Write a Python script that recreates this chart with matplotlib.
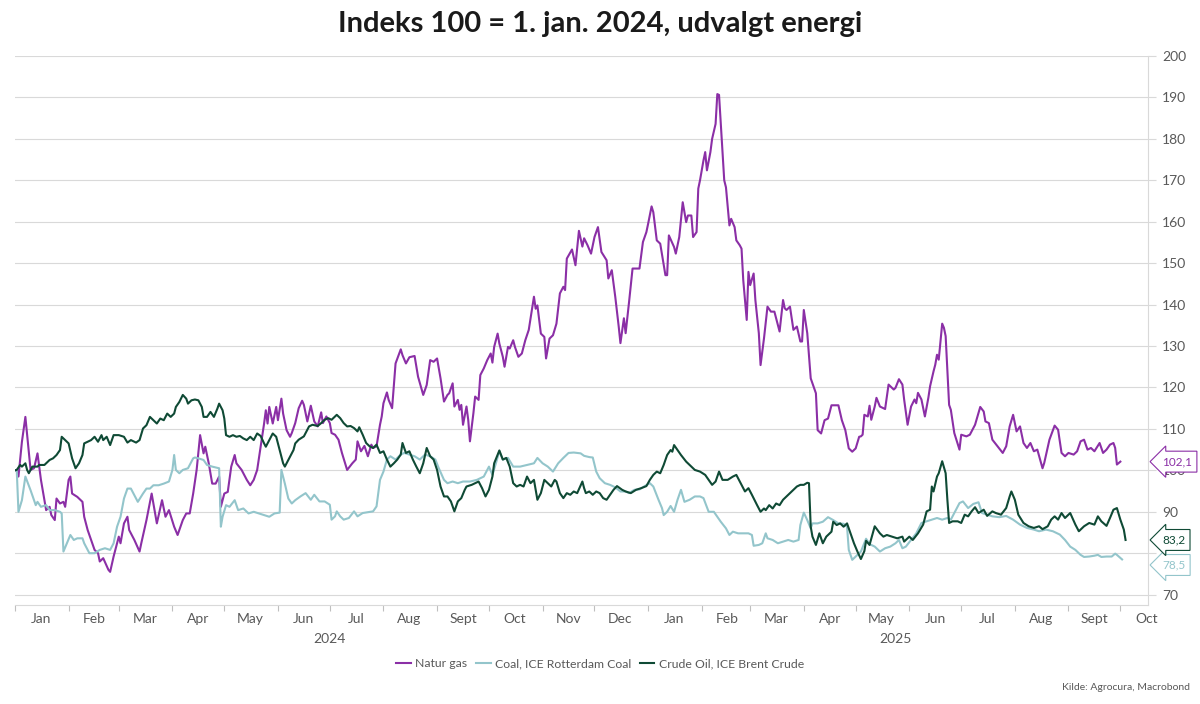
import numpy as np
import pandas as pd
import matplotlib
matplotlib.use('Agg')
import matplotlib.pyplot as plt
import matplotlib.dates as mdates
from matplotlib.ticker import FuncFormatter, NullFormatter
from matplotlib.transforms import blended_transform_factory

plt.rcParams['font.family'] = ['Lato', 'DejaVu Sans']

# dage efter 1. jan. 2024 og indeksværdier (aflæst)
gas_days = [0, 1, 2, 4, 6, 9, 11, 13, 15, 18,
            20, 21, 23, 24, 26, 28, 29, 31, 32, 33,
            36, 39, 40, 42, 46, 48, 49, 51, 54, 55,
            57, 60, 61, 63, 65, 66, 69, 72, 73, 76,
            79, 81, 82, 85, 87, 89, 92, 94, 97, 99,
            101, 103, 105, 107, 109, 110, 112, 114, 116, 118,
            119, 121, 123, 125, 127, 128, 131, 134, 136, 138,
            140, 142, 144, 145, 146, 147, 149, 151, 152, 154,
            155, 157, 159, 160, 162, 164, 166, 167, 169, 171,
            173, 175, 177, 178, 180, 182, 183, 185, 187, 189,
            192, 195, 197, 198, 200, 202, 204, 206, 207, 209,
            211, 212, 213, 215, 216, 218, 220, 223, 224, 226,
            228, 231, 233, 236, 238, 240, 242, 244, 246, 248,
            250, 251, 253, 254, 256, 257, 258, 259, 261, 262,
            263, 265, 266, 268, 269, 271, 273, 275, 276, 277,
            279, 280, 282, 283, 285, 286, 288, 289, 291, 293,
            295, 297, 300, 301, 302, 304, 306, 307, 309, 311,
            313, 315, 317, 318, 319, 322, 324, 326, 328, 329,
            331, 333, 335, 337, 339, 342, 343, 345, 347, 349,
            350, 352, 353, 355, 357, 359, 361, 363, 365, 366,
            368, 369, 371, 373, 376, 377, 378, 381, 382, 384,
            386, 388, 389, 391, 392, 394, 395, 396, 398, 399,
            400, 402, 403, 405, 406, 407, 408, 410, 411, 413,
            414, 416, 417, 419, 420, 421, 423, 424, 425, 427,
            428, 430, 431, 433, 435, 437, 439, 442, 444, 445,
            446, 448, 450, 452, 454, 455, 456, 458, 460, 461,
            463, 464, 466, 468, 470, 472, 476, 478, 480, 482,
            484, 486, 488, 489, 490, 491, 493, 494, 495, 497,
            498, 500, 503, 505, 508, 509, 511, 513, 514, 516,
            518, 520, 521, 522, 524, 526, 528, 529, 531, 532,
            533, 534, 536, 537, 538, 540, 541, 543, 546, 547,
            550, 552, 554, 555, 558, 560, 561, 563, 565, 568,
            571, 573, 575, 577, 579, 581, 583, 585, 587, 589,
            591, 594, 595, 598, 601, 603, 605, 607, 609, 612,
            614, 616, 618, 620, 622, 624, 627, 629, 631, 633,
            635, 636, 637, 639]
gas_vals = [100.0, 100.1, 98.5, 106.9, 112.9, 100.1, 100.5, 104.1, 97.7, 90.4,
            91.2, 89.2, 88.0, 93.2, 92.0, 92.4, 91.2, 97.7, 98.5, 94.4,
            93.6, 92.4, 88.8, 85.6, 80.8, 80.0, 78.0, 78.8, 76.0, 75.5,
            79.2, 84.0, 82.4, 87.2, 88.8, 85.6, 83.2, 80.4, 82.4, 88.0,
            94.4, 89.6, 87.2, 92.8, 88.8, 90.4, 86.4, 84.4, 88.0, 89.6,
            89.6, 94.4, 100.1, 108.5, 104.1, 105.7, 101.7, 96.8, 96.8, 98.5,
            91.2, 94.4, 94.8, 100.9, 103.7, 101.7, 100.1, 97.7, 96.4, 97.7,
            100.1, 105.7, 111.3, 114.5, 111.3, 115.3, 111.3, 115.3, 112.1, 117.3,
            113.7, 109.7, 108.1, 109.0, 111.4, 115.0, 116.8, 115.8, 111.8, 115.6,
            111.8, 110.6, 114.0, 111.4, 113.0, 111.4, 109.0, 108.6, 107.4, 104.2,
            100.1, 101.7, 102.6, 107.0, 104.6, 105.9, 103.4, 106.2, 105.4, 105.8,
            111.0, 113.0, 116.2, 118.8, 117.0, 115.0, 125.8, 129.2, 127.8, 125.8,
            127.3, 127.6, 122.6, 118.2, 120.6, 126.6, 126.2, 127.0, 122.2, 116.6,
            118.2, 118.6, 121.0, 115.4, 117.0, 114.6, 115.8, 111.0, 115.4, 112.2,
            107.0, 113.8, 117.8, 117.0, 123.0, 124.6, 126.6, 128.2, 126.0, 129.8,
            133.0, 130.6, 127.4, 125.0, 129.8, 129.4, 131.4, 129.8, 127.4, 128.2,
            131.4, 133.9, 141.9, 139.0, 139.8, 133.0, 132.2, 127.0, 131.8, 132.6,
            135.4, 142.7, 144.3, 143.5, 151.1, 153.3, 149.5, 157.8, 154.0, 156.0,
            154.3, 152.3, 156.3, 158.7, 152.7, 150.7, 146.3, 148.3, 141.9, 134.7,
            130.7, 136.7, 133.1, 140.7, 148.7, 148.7, 148.7, 155.1, 157.5, 159.5,
            163.7, 162.3, 155.5, 154.7, 147.1, 147.1, 156.7, 153.9, 152.3, 156.3,
            164.7, 159.9, 161.5, 161.5, 156.3, 157.5, 168.0, 170.0, 174.8, 176.8,
            172.4, 176.8, 180.0, 183.6, 190.8, 190.6, 183.6, 170.0, 168.3, 159.1,
            160.7, 158.7, 155.5, 154.3, 153.5, 145.9, 136.3, 147.9, 144.7, 147.5,
            141.1, 133.1, 125.4, 131.9, 139.5, 138.3, 138.3, 133.5, 141.1, 139.1,
            138.7, 139.5, 133.9, 134.7, 131.1, 131.1, 138.7, 133.1, 122.2, 121.0,
            118.6, 109.7, 108.9, 112.1, 112.5, 115.7, 115.7, 112.1, 109.7, 105.3,
            104.5, 105.3, 108.1, 108.2, 108.6, 113.4, 113.0, 115.6, 112.2, 115.4,
            117.5, 115.4, 114.8, 120.7, 119.5, 119.9, 122.0, 120.7, 117.1, 111.0,
            115.4, 117.1, 116.2, 118.7, 117.1, 113.0, 117.5, 120.3, 123.9, 125.5,
            127.9, 126.7, 135.4, 134.4, 132.4, 115.8, 114.6, 109.0, 105.0, 108.6,
            108.2, 108.6, 110.2, 111.0, 115.3, 114.2, 111.8, 111.4, 107.4, 105.8,
            104.2, 105.8, 110.6, 113.4, 109.4, 110.6, 106.6, 105.4, 106.6, 104.6,
            105.0, 100.5, 101.8, 107.4, 110.8, 109.8, 104.2, 103.4, 104.2, 103.8,
            104.6, 107.0, 107.4, 105.0, 105.4, 104.6, 106.6, 104.2, 105.0, 106.2,
            106.6, 105.4, 101.4, 102.1]

coal_days = [0, 1, 2, 4, 6, 9, 12, 13, 15, 18,
             20, 23, 26, 27, 28, 30, 32, 34, 36, 39,
             40, 43, 46, 49, 52, 55, 57, 59, 61, 63,
             65, 67, 69, 71, 74, 76, 78, 80, 83, 86,
             89, 91, 92, 93, 95, 97, 100, 103, 104, 106,
             109, 111, 114, 118, 119, 120, 122, 124, 127, 129,
             132, 135, 138, 141, 144, 147, 150, 153, 154, 156,
             158, 160, 162, 165, 168, 171, 173, 176, 179, 182,
             183, 185, 186, 188, 190, 193, 196, 198, 201, 204,
             207, 209, 211, 213, 215, 217, 220, 223, 225, 228,
             231, 234, 237, 240, 243, 245, 248, 250, 253, 256,
             259, 263, 267, 271, 274, 276, 278, 280, 282, 285,
             288, 292, 296, 300, 302, 305, 308, 311, 314, 317,
             320, 323, 327, 329, 332, 334, 336, 338, 341, 344,
             347, 350, 353, 355, 358, 361, 364, 367, 369, 372,
             374, 375, 377, 379, 381, 383, 385, 387, 390, 393,
             396, 398, 401, 404, 406, 408, 411, 413, 415, 418,
             421, 424, 426, 427, 430, 432, 434, 435, 438, 441,
             444, 447, 450, 453, 454, 456, 458, 460, 461, 464,
             467, 470, 473, 476, 479, 481, 482, 484, 487, 489,
             492, 494, 497, 500, 503, 506, 509, 511, 513, 515,
             518, 521, 524, 527, 530, 533, 536, 539, 541, 544,
             546, 548, 551, 554, 557, 559, 562, 565, 569, 573,
             577, 581, 585, 589, 592, 596, 600, 604, 607, 610,
             613, 616, 618, 621, 624, 626, 628, 631, 634, 636,
             637, 640]
coal_vals = [100.0, 100.1, 90.0, 92.8, 98.5, 95.2, 91.6, 92.4, 91.2, 91.6,
             90.4, 90.4, 90.0, 89.6, 80.4, 82.4, 84.4, 83.2, 83.6, 83.6,
             82.4, 80.0, 80.0, 80.8, 81.2, 80.8, 82.4, 86.4, 88.8, 93.2,
             95.6, 95.6, 94.0, 92.4, 94.4, 95.6, 95.6, 96.4, 96.4, 96.8,
             97.3, 100.1, 103.7, 100.1, 99.3, 100.1, 100.5, 102.9, 103.1, 102.9,
             102.5, 101.3, 100.9, 100.5, 86.4, 88.8, 91.6, 91.2, 92.8, 90.4,
             90.8, 89.6, 90.0, 89.6, 89.2, 88.8, 89.6, 89.8, 100.1, 96.8,
             93.2, 92.0, 92.8, 93.7, 94.5, 92.9, 94.1, 92.5, 92.5, 91.7,
             88.1, 88.9, 90.1, 88.9, 88.1, 88.5, 90.1, 88.9, 89.7, 89.9,
             90.1, 91.3, 97.7, 99.7, 102.6, 103.4, 102.6, 103.8, 104.2, 103.8,
             103.4, 102.6, 103.8, 103.4, 102.6, 100.5, 97.7, 96.9, 97.3, 96.9,
             97.3, 97.3, 97.7, 98.5, 100.9, 98.9, 101.7, 104.6, 102.6, 103.0,
             100.9, 100.9, 101.3, 101.7, 103.0, 101.7, 100.9, 99.7, 101.7, 103.0,
             104.2, 104.3, 104.1, 103.5, 103.2, 103.1, 99.7, 98.1, 96.9, 96.5,
             95.9, 94.9, 94.9, 94.5, 95.3, 95.4, 96.2, 96.9, 96.1, 92.9,
             90.9, 89.2, 90.0, 91.4, 90.0, 92.9, 95.3, 92.4, 92.9, 93.7,
             93.7, 93.3, 90.0, 90.0, 88.8, 87.6, 86.0, 84.4, 85.2, 84.8,
             84.8, 84.8, 84.4, 81.8, 82.0, 82.4, 84.8, 83.6, 83.2, 82.4,
             82.8, 83.2, 82.8, 83.2, 86.8, 89.8, 88.0, 86.0, 87.2, 87.2,
             87.6, 88.7, 88.0, 87.2, 87.1, 86.4, 80.8, 78.4, 79.6, 80.4,
             83.5, 82.2, 81.6, 80.4, 81.2, 81.6, 82.4, 83.2, 81.2, 81.6,
             83.2, 84.8, 87.3, 87.7, 88.1, 88.5, 88.1, 88.5, 88.1, 90.5,
             92.1, 92.5, 90.9, 91.9, 92.3, 89.7, 89.3, 88.9, 88.7, 89.0,
             88.1, 86.9, 86.1, 85.7, 85.3, 85.7, 85.3, 84.5, 83.2, 81.6,
             80.8, 79.6, 79.1, 79.2, 79.4, 79.6, 79.1, 79.2, 79.2, 79.9,
             79.6, 78.5]

oil_days = [0, 1, 3, 4, 6, 7, 8, 10, 13, 14,
            17, 20, 22, 24, 26, 27, 29, 31, 33, 35,
            37, 39, 40, 42, 44, 46, 48, 50, 51, 53,
            55, 57, 60, 63, 65, 67, 70, 72, 74, 76,
            78, 80, 82, 84, 86, 88, 90, 92, 93, 95,
            97, 99, 100, 102, 104, 106, 108, 109, 111, 113,
            115, 117, 118, 120, 121, 122, 124, 126, 128, 130,
            132, 134, 136, 138, 140, 142, 144, 145, 147, 149,
            151, 153, 155, 156, 158, 161, 162, 164, 167, 170,
            172, 175, 177, 179, 181, 183, 186, 188, 190, 192,
            194, 196, 198, 199, 201, 203, 205, 207, 209, 211,
            213, 215, 217, 219, 221, 223, 224, 226, 228, 230,
            232, 234, 236, 238, 240, 242, 244, 246, 248, 250,
            252, 254, 256, 258, 260, 261, 264, 266, 268, 270,
            272, 274, 276, 277, 280, 282, 284, 286, 288, 290,
            292, 294, 296, 298, 300, 302, 304, 306, 308, 310,
            312, 313, 315, 317, 319, 321, 323, 325, 328, 329,
            330, 332, 334, 336, 338, 340, 342, 344, 346, 348,
            351, 353, 356, 359, 362, 365, 367, 369, 371, 373,
            375, 377, 379, 380, 381, 383, 385, 388, 391, 393,
            396, 399, 401, 403, 405, 407, 409, 412, 415, 417,
            419, 422, 424, 426, 429, 431, 433, 434, 436, 438,
            440, 442, 444, 447, 450, 452, 454, 456, 458, 459,
            460, 461, 463, 465, 467, 469, 472, 473, 475, 477,
            479, 481, 483, 485, 487, 489, 491, 492, 494, 497,
            500, 502, 504, 507, 510, 513, 514, 517, 519, 522,
            525, 527, 529, 530, 531, 533, 534, 536, 538, 539,
            540, 542, 545, 547, 549, 551, 553, 555, 557, 560,
            562, 565, 567, 570, 573, 575, 576, 578, 580, 583,
            586, 589, 592, 594, 597, 599, 601, 603, 605, 607,
            610, 613, 615, 618, 621, 624, 626, 628, 631, 633,
            635, 637, 639, 641, 642]
oil_vals = [100.0, 100.1, 101.3, 100.9, 101.7, 100.1, 99.3, 100.9, 100.9, 101.3,
            101.3, 102.5, 102.9, 103.7, 104.9, 108.1, 107.3, 106.5, 102.9, 100.5,
            101.7, 103.7, 106.5, 106.9, 107.3, 108.1, 106.9, 108.5, 107.3, 108.1,
            106.1, 108.5, 108.5, 108.1, 106.7, 107.3, 106.7, 107.3, 110.1, 110.9,
            112.9, 112.1, 111.3, 112.5, 112.1, 113.7, 112.9, 113.7, 115.3, 116.5,
            118.2, 117.3, 116.1, 116.9, 117.1, 116.9, 115.3, 112.9, 112.9, 114.1,
            112.9, 114.9, 116.1, 114.5, 112.5, 108.5, 108.1, 108.5, 108.1, 108.3,
            107.7, 107.3, 108.1, 107.3, 108.9, 108.3, 106.5, 105.7, 107.3, 108.9,
            108.1, 104.9, 101.7, 100.9, 102.5, 104.9, 106.5, 107.4, 108.2, 110.6,
            111.0, 110.7, 111.4, 112.2, 112.6, 112.2, 113.4, 112.6, 111.4, 110.6,
            110.7, 110.2, 109.4, 110.4, 108.6, 106.6, 105.8, 105.4, 106.2, 104.2,
            104.6, 102.6, 100.9, 101.7, 102.6, 103.8, 106.6, 104.2, 104.6, 102.6,
            100.9, 99.3, 101.7, 105.4, 103.4, 102.6, 100.1, 96.1, 93.7, 93.7,
            92.5, 90.1, 92.5, 93.3, 95.3, 96.1, 96.5, 96.9, 97.3, 95.7,
            93.7, 95.3, 98.5, 101.7, 104.8, 102.6, 103.0, 100.9, 96.9, 96.1,
            96.5, 96.1, 98.5, 96.9, 97.7, 92.9, 94.5, 97.7, 96.9, 96.1,
            97.7, 97.3, 94.5, 93.3, 94.5, 94.1, 94.9, 94.5, 97.3, 95.7,
            94.5, 94.9, 94.1, 94.9, 94.5, 93.3, 92.9, 94.1, 95.3, 96.2,
            95.3, 94.9, 94.5, 95.3, 95.7, 96.2, 97.7, 98.9, 99.7, 99.3,
            101.3, 103.7, 104.9, 104.5, 106.1, 104.9, 103.7, 102.1, 100.9, 100.1,
            99.7, 98.9, 97.7, 96.5, 97.3, 99.7, 97.7, 97.7, 98.5, 98.9,
            97.3, 94.9, 95.7, 94.1, 91.6, 90.0, 90.8, 90.4, 91.6, 90.8,
            92.0, 91.6, 92.9, 94.1, 95.3, 96.1, 96.5, 96.5, 97.0, 96.9,
            86.4, 84.0, 82.0, 84.8, 82.4, 84.0, 85.2, 87.6, 86.8, 87.2,
            86.4, 87.2, 84.8, 82.4, 80.4, 78.6, 80.5, 83.0, 82.0, 86.5,
            84.8, 84.0, 84.4, 84.0, 83.6, 84.0, 82.8, 84.0, 83.2, 84.8,
            86.9, 90.1, 90.5, 96.1, 94.9, 98.5, 99.3, 102.2, 99.3, 92.9,
            87.3, 87.7, 87.7, 87.3, 89.3, 88.9, 90.1, 91.1, 89.7, 90.5,
            89.0, 90.1, 89.7, 89.3, 90.9, 93.7, 94.9, 92.9, 89.3, 87.3,
            86.5, 86.1, 86.5, 85.8, 86.5, 88.1, 88.9, 88.1, 89.7, 88.5,
            89.7, 86.9, 85.3, 86.5, 87.3, 86.9, 88.9, 87.7, 86.6, 88.5,
            90.5, 90.9, 88.1, 85.7, 83.2]

series = [
    ('Natur gas', gas_days, gas_vals, '#8b2fa6', 0),
    ('Coal, ICE Rotterdam Coal', coal_days, coal_vals, '#93c5cb', -4),
    ('Crude Oil, ICE Brent Crude', oil_days, oil_vals, '#0f4a35', 0),
]
month_names = ['Jan', 'Feb', 'Mar', 'Apr', 'May', 'Jun', 'Jul', 'Aug', 'Sept', 'Oct', 'Nov', 'Dec']
y_ticks = [70, 90, 100, 110, 120, 130, 140, 150, 160, 170, 180, 190, 200]  # 80 dækkes af etiketterne

start = pd.Timestamp('2024-01-01')
grey = '#d9d9d9'
txt = '#595959'

fig = plt.figure(figsize=(12, 7.04), dpi=100)
ax = fig.add_axes([0.0125, 0.1406, 0.9442, 0.7799])

for name, days, vals, col, dy in series:
    dates = start + pd.to_timedelta(days, unit='D')
    ax.plot(dates, vals, color=col, lw=1.5, label=name, zorder=3)

ax.set_xlim(start, pd.Timestamp('2025-10-17'))
ax.set_ylim(67.5, 200)

# y-akse til højre
ax.yaxis.tick_right()
ax.set_yticks(np.arange(70, 201, 10))
ax.set_yticklabels([str(v) if v in y_ticks else '' for v in np.arange(70, 201, 10)])
ax.tick_params(axis='y', colors=grey, labelcolor=txt, labelsize=10, length=6, pad=4)
ax.grid(axis='y', color=grey, lw=0.8)
ax.set_axisbelow(True)

for s in ['top', 'left']:
    ax.spines[s].set_visible(False)
for s in ['right', 'bottom']:
    ax.spines[s].set_color(grey)
    ax.spines[s].set_linewidth(0.8)

# x-akse: streger ved månedsskift, navne midt i måneden
ax.xaxis.set_major_locator(mdates.MonthLocator())
ax.xaxis.set_major_formatter(NullFormatter())
ax.xaxis.set_minor_locator(mdates.MonthLocator(bymonthday=16))
ax.xaxis.set_minor_formatter(FuncFormatter(lambda x, p: month_names[mdates.num2date(x).month - 1]))
ax.tick_params(axis='x', which='major', length=4, color='#bfbfbf', width=0.8)
ax.tick_params(axis='x', which='minor', length=0, labelcolor=txt, labelsize=10, pad=6)

trans = blended_transform_factory(ax.transData, ax.transAxes)
ax.text(pd.Timestamp('2024-07-01'), -0.062, '2024', transform=trans, ha='center', va='center',
        color=txt, fontsize=10)
ax.text(pd.Timestamp('2025-05-24'), -0.062, '2025', transform=trans, ha='center', va='center',
        color=txt, fontsize=10)

# etiketter med sidste værdi
for name, days, vals, col, dy in series:
    ax.annotate(f'{vals[-1]:.1f}'.replace('.', ','), xy=(1.0, vals[-1]),
                xycoords=('axes fraction', 'data'), xytext=(10, dy), textcoords='offset points',
                ha='left', va='center', fontsize=8.5, color=col, zorder=5, annotation_clip=False,
                bbox=dict(boxstyle='larrow,pad=0.42', fc='white', ec=col, lw=0.8))

fig.suptitle('Indeks 100 = 1. jan. 2024, udvalgt energi', x=0.5, y=0.985, va='top',
             fontsize=21, fontweight='bold', color='#1a1a1a')

fig.legend(loc='center', bbox_to_anchor=(0.5, 0.057), ncol=3, frameon=False, fontsize=8.8,
           handlelength=1.2, handletextpad=0.35, columnspacing=0.7, labelcolor=txt)

fig.text(0.992, 0.024, 'Kilde: Agrocura, Macrobond', ha='right', va='center', fontsize=7.5, color=txt)

fig.savefig('out.png', dpi=100)
